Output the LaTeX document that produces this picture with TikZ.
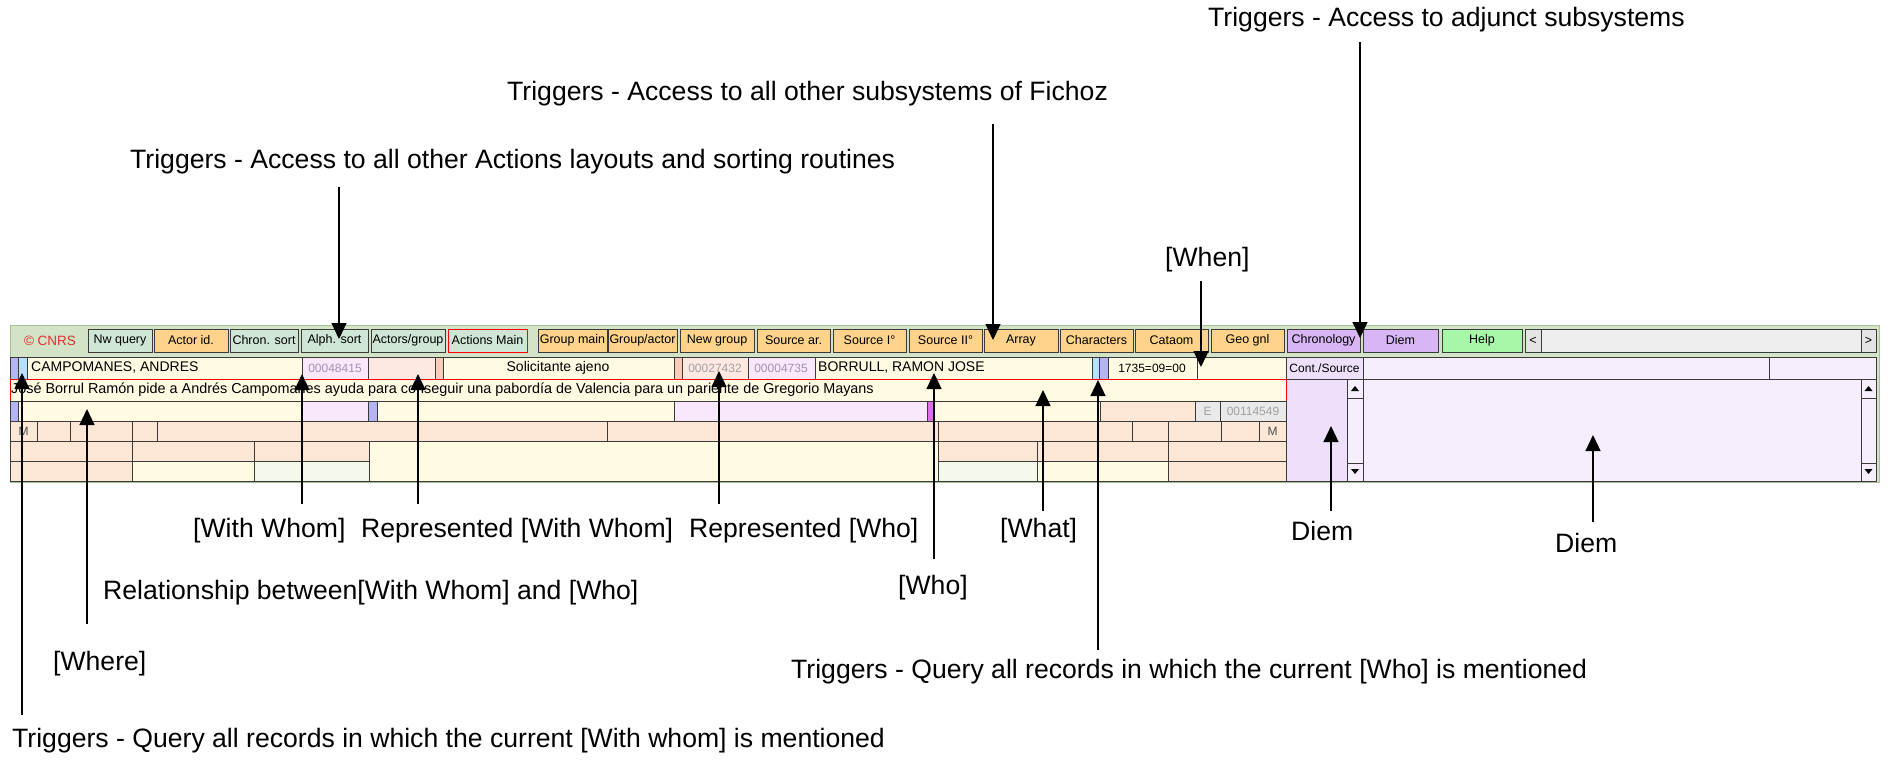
\documentclass[tikz,border=0pt]{standalone}
\usepackage{fontspec}
\setmainfont{Liberation Sans}
\usetikzlibrary{arrows.meta}
\definecolor{barbg}{HTML}{D2E3C8}
\definecolor{framec}{HTML}{A8C098}
\definecolor{tealb}{HTML}{CFE6D6}
\definecolor{orangeb}{HTML}{FDD28A}
\definecolor{purpleb}{HTML}{D8B6F6}
\definecolor{greenb}{HTML}{A8F7A8}
\definecolor{greyb}{HTML}{E4E4E4}
\definecolor{scrollb}{HTML}{EEEEEE}
\definecolor{yel}{HTML}{FFFBE3}
\definecolor{pink}{HTML}{FDE9E1}
\definecolor{lav}{HTML}{F9E7FB}
\definecolor{peach}{HTML}{FCE7D7}
\definecolor{blueA}{HTML}{B4B4F0}
\definecolor{blueB}{HTML}{B8E0FA}
\definecolor{salmon}{HTML}{F8CBBB}
\definecolor{magen}{HTML}{DD6EE6}
\definecolor{greyc}{HTML}{E9E9E9}
\definecolor{lavR}{HTML}{EEE0FB}
\definecolor{lavB}{HTML}{F6EEFD}
\definecolor{greenish}{HTML}{F4F8EA}
\definecolor{cellline}{HTML}{3A3A3A}
\definecolor{greytxt}{HTML}{A0A0A0}
\definecolor{lavtxt}{HTML}{A890B0}
\definecolor{cnrs}{HTML}{E03030}
\newcommand\uicell[5]{\path[cell,fill=#5] (#1,#3) rectangle (#2,#4);}
\newcommand\uibtn[5]{\path[btn,fill=#4] (#1,329) rectangle (#2,352);
  \node[btntxt] (#5) at ({(#1+#2)/2},340.5) {#3};}
\begin{document}
\begin{tikzpicture}[x=1pt,y=-1pt,
  cell/.style={draw=cellline,line width=0.8pt},
  btn/.style={draw=cellline,line width=1pt},
  btntxt/.style={font=\fontsize{12.5}{14}\selectfont,inner sep=0pt},
  uitxt/.style={font=\fontsize{14}{16}\selectfont,inner sep=0pt},
  numtxt/.style={font=\fontsize{12}{14}\selectfont,inner sep=0pt},
  lbl/.style={font=\fontsize{26.6}{30}\selectfont,inner sep=0pt,anchor=west},
  arr/.style={draw=black,line width=1.2pt,-{Triangle[width=15pt,length=16pt]}}]
\useasboundingbox (0,0) rectangle (1893,763);
\fill[white] (0,0) rectangle (1893,763);
% ---------- toolbar ----------
\path[fill=barbg,draw=framec,line width=1pt] (10,325) rectangle (1879,482);
\node[font=\fontsize{13.5}{15}\selectfont,inner sep=0pt,text=cnrs] (cnrs) at (50,340.5) {© CNRS};
\uibtn{88}{152}{Nw query}{tealb}{b1}
\uibtn{154}{228}{Actor id.}{orangeb}{b2}
\uibtn{230}{298}{Chron. sort}{tealb}{b3}
\uibtn{301}{368}{Alph. sort}{tealb}{b4}
\uibtn{371}{445}{Actors/group}{tealb}{b5}
\path[draw=red,line width=1pt,fill=tealb] (448,329) rectangle (527,352);
\node[btntxt] (b6) at (487.5,340.5) {Actions Main};
\uibtn{538}{607}{Group main}{orangeb}{b7}
\uibtn{608}{677}{Group/actor}{orangeb}{b8}
\uibtn{680}{754}{New group}{orangeb}{b9}
\uibtn{757}{830}{Source ar.}{orangeb}{b10}
\uibtn{833}{906}{Source I°}{orangeb}{b11}
\uibtn{909}{982}{Source II°}{orangeb}{b12}
\uibtn{984}{1058}{Array}{orangeb}{b13}
\uibtn{1060}{1133}{Characters}{orangeb}{b14}
\uibtn{1135}{1208}{Cataom}{orangeb}{b15}
\uibtn{1211}{1284}{Geo gnl}{orangeb}{b16}
\uibtn{1287}{1360}{Chronology}{purpleb}{b17}
\uibtn{1363}{1438}{Diem}{purpleb}{b18}
\uibtn{1442}{1522}{Help}{greenb}{b19}
\uibtn{1525}{1541}{<}{greyb}{b20}
\uibtn{1541}{1861}{}{scrollb}{b21}
\uibtn{1861}{1876}{>}{greyb}{b22}
% ---------- row 1 ----------
\uicell{10}{18}{357}{379}{blueA}
\uicell{18}{27}{357}{379}{blueB}
\uicell{27}{302}{357}{379}{yel}
\uicell{302}{368}{357}{379}{lav}
\uicell{368}{435}{357}{379}{pink}
\uicell{435}{443}{357}{379}{salmon}
\uicell{443}{674}{357}{379}{yel}
\uicell{674}{682}{357}{379}{salmon}
\uicell{682}{748}{357}{379}{pink}
\uicell{748}{815}{357}{379}{lav}
\uicell{815}{1092}{357}{379}{yel}
\uicell{1092}{1099}{357}{379}{blueB}
\uicell{1099}{1108}{357}{379}{blueA}
\uicell{1108}{1197}{357}{379}{yel}
\uicell{1197}{1286}{357}{379}{yel}
\uicell{1286}{1363}{357}{379}{lavR}
\uicell{1363}{1769}{357}{379}{lavB}
\uicell{1769}{1876}{357}{379}{lavB}
\node[uitxt,anchor=west] (t1) at (31,368) {CAMPOMANES, ANDRES};
\node[numtxt,text=lavtxt] (t2) at (335,368) {00048415};
\node[uitxt] (t3) at (558,368) {Solicitante ajeno};
\node[numtxt,text=greytxt] (t4) at (715,368) {00027432};
\node[numtxt,text=lavtxt] (t5) at (781,368) {00004735};
\node[uitxt,anchor=west] (t6) at (818,368) {BORRULL, RAMON JOSE};
\node[numtxt] (t7) at (1152,368) {1735=09=00};
\node[numtxt] (t8) at (1324.5,368) {Cont./Source};
% ---------- right panels ----------
\uicell{1286}{1347}{379}{481}{lavR}
\uicell{1347}{1363}{379}{481}{lavB}
\uicell{1347}{1363}{379}{398}{lavB}
\uicell{1347}{1363}{463}{481}{lavB}
\uicell{1363}{1861}{379}{481}{lavB}
\uicell{1861}{1876}{379}{481}{lavB}
\uicell{1861}{1876}{379}{398}{lavB}
\uicell{1861}{1876}{463}{481}{lavB}
\fill[black] (1351,391) -- (1359,391) -- (1355,386) -- cycle;
\fill[black] (1351,469) -- (1359,469) -- (1355,474) -- cycle;
\fill[black] (1864.5,391) -- (1872.5,391) -- (1868.5,386) -- cycle;
\fill[black] (1864.5,469) -- (1872.5,469) -- (1868.5,474) -- cycle;
% ---------- row 2 ----------
\path[draw=red,line width=1pt,fill=yel] (10,379) rectangle (1286,401);
\node[font=\fontsize{14.4}{16}\selectfont,inner sep=0pt,anchor=west] (t9) at (11,390) {José Borrul Ramón pide a Andrés Campomanes ayuda para conseguir una pabordía de Valencia para un pariente de Gregorio Mayans};
% ---------- row 3 ----------
\uicell{10}{18}{401}{421}{blueA}
\uicell{18}{302}{401}{421}{yel}
\uicell{302}{368}{401}{421}{lav}
\uicell{368}{377}{401}{421}{blueA}
\uicell{377}{674}{401}{421}{yel}
\uicell{674}{927}{401}{421}{lav}
\uicell{927}{934}{401}{421}{magen}
\uicell{934}{1100}{401}{421}{yel}
\uicell{1100}{1195}{401}{421}{peach}
\uicell{1195}{1220}{401}{421}{greyc}
\uicell{1220}{1286}{401}{421}{greyc}
\node[numtxt,text=greytxt] (t10) at (1207.5,411) {E};
\node[numtxt,text=greytxt] (t11) at (1253,411) {00114549};
% ---------- row 4 ----------
\uicell{10}{37}{421}{441}{peach}
\uicell{37}{70}{421}{441}{peach}
\uicell{70}{132}{421}{441}{peach}
\uicell{132}{157}{421}{441}{peach}
\uicell{157}{607}{421}{441}{peach}
\uicell{607}{938}{421}{441}{peach}
\uicell{938}{1132}{421}{441}{peach}
\uicell{1132}{1168}{421}{441}{peach}
\uicell{1168}{1221}{421}{441}{peach}
\uicell{1221}{1259}{421}{441}{peach}
\uicell{1259}{1286}{421}{441}{peach}
\node[numtxt,text=black!70] (t12) at (23.5,431) {M};
\node[numtxt,text=black!70] (t13) at (1272.5,431) {M};
% ---------- rows 5-6 ----------
\uicell{10}{132}{441}{461}{peach}
\uicell{132}{254}{441}{461}{peach}
\uicell{254}{369}{441}{461}{peach}
\uicell{369}{938}{441}{481}{yel}
\uicell{938}{1037}{441}{461}{peach}
\uicell{1037}{1168}{441}{461}{peach}
\uicell{1168}{1286}{441}{461}{peach}
\uicell{10}{132}{461}{481}{peach}
\uicell{132}{254}{461}{481}{yel}
\uicell{254}{369}{461}{481}{greenish}
\uicell{938}{1037}{461}{481}{greenish}
\uicell{1037}{1168}{461}{481}{yel}
\uicell{1168}{1286}{461}{481}{peach}
% ---------- labels ----------
\node[lbl] (L1) at (1208,20) {Triggers - Access to adjunct subsystems};
\node[lbl] (L2) at (507,94) {Triggers - Access to all other subsystems of Fichoz};
\node[lbl] (L3) at (130,162) {Triggers - Access to all other Actions layouts and sorting routines};
\node[lbl] (L4) at (1165,260) {[When]};
\node[lbl] (L5) at (193,531) {[With Whom]};
\node[lbl] (L6) at (361,531) {Represented [With Whom]};
\node[lbl] (L7) at (689,531) {Represented [Who]};
\node[lbl] (L8) at (1000,531) {[What]};
\node[lbl] (L9) at (1291,531) {Diem};
\node[lbl] (L10) at (1555,543) {Diem};
\node[lbl] (L11) at (898,588) {[Who]};
\node[lbl] (L12) at (103,593) {Relationship between[With Whom] and [Who]};
\node[lbl] (L13) at (53,664) {[Where]};
\node[lbl] (L14) at (791,672) {Triggers - Query all records in which the current [Who] is mentioned};
\node[lbl] (L15) at (12,741) {Triggers - Query all records in which the current [With whom] is mentioned};
% ---------- arrow end points ----------
\coordinate (a1s) at (1360,42);   \coordinate (a1t) at (1360,338);
\coordinate (a2s) at (993,124);   \coordinate (a2t) at (993,340);
\coordinate (a3s) at (339,187);   \coordinate (a3t) at (339,339);
\coordinate (a4s) at (1201,281);  \coordinate (a4t) at (1201,367);
\coordinate (c1s) at (22,715);    \coordinate (c1t) at (22,373);
\coordinate (c2s) at (87,624);    \coordinate (c2t) at (87,409);
\coordinate (c3s) at (302,504);   \coordinate (c3t) at (302,374);
\coordinate (c4s) at (418,504);   \coordinate (c4t) at (418,374);
\coordinate (c5s) at (719,504);   \coordinate (c5t) at (719,371);
\coordinate (c6s) at (934,559);   \coordinate (c6t) at (934,373);
\coordinate (c7s) at (1043,511);  \coordinate (c7t) at (1043,390);
\coordinate (c8s) at (1098,650);  \coordinate (c8t) at (1098,380);
\coordinate (c9s) at (1331,511);  \coordinate (c9t) at (1331,426);
\coordinate (c10s) at (1593,522); \coordinate (c10t) at (1593,435);
\foreach \n in {a1,a2,a3,a4,c1,c2,c3,c4,c5,c6,c7,c8,c9,c10}
  \draw[arr] (\n s) -- (\n t);
\end{tikzpicture}
\end{document}
